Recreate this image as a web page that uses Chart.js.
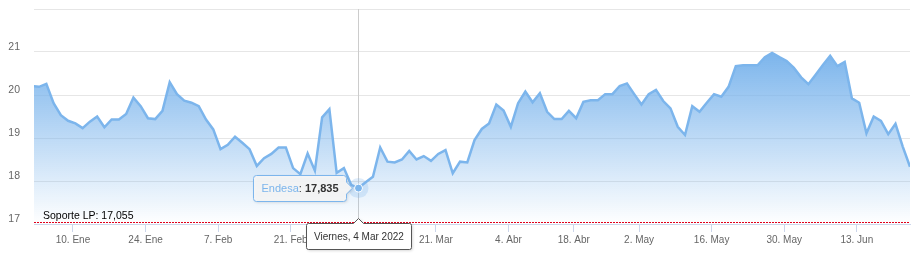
<!DOCTYPE html>
<html><head><meta charset="utf-8">
<script src="https://cdn.jsdelivr.net/npm/chart.js@4.4.0/dist/chart.umd.min.js"></script>
<style>html,body{margin:0;padding:0;background:#fff;}canvas{display:block}</style>
</head><body>
<canvas id="c" width="916" height="261"></canvas>
<script>
const seriesName = 'Endesa';
const year = 2022;
// trading days (first entry is 31 Dec of the previous year)
const dates = ['12-31',
 '01-03','01-04','01-05','01-06','01-07','01-10','01-11','01-12','01-13','01-14','01-17','01-18','01-19','01-20','01-21','01-24','01-25','01-26','01-27','01-28','01-31',
 '02-01','02-02','02-03','02-04','02-07','02-08','02-09','02-10','02-11','02-14','02-15','02-16','02-17','02-18','02-21','02-22','02-23','02-24','02-25','02-28',
 '03-01','03-02','03-03','03-04','03-07','03-08','03-09','03-10','03-11','03-14','03-15','03-16','03-17','03-18','03-21','03-22','03-23','03-24','03-25','03-28','03-29','03-30','03-31',
 '04-01','04-04','04-05','04-06','04-07','04-08','04-11','04-12','04-13','04-14','04-19','04-20','04-21','04-22','04-25','04-26','04-27','04-28','04-29',
 '05-02','05-03','05-04','05-05','05-06','05-09','05-10','05-11','05-12','05-13','05-16','05-17','05-18','05-19','05-20','05-23','05-24','05-25','05-26','05-27','05-30','05-31',
 '06-01','06-02','06-03','06-06','06-07','06-08','06-09','06-10','06-13','06-14','06-15','06-16','06-17','06-20','06-21','06-22'];
const prices = [20.21,
 20.19,20.26,19.81,19.53,19.40,19.34,19.23,19.38,19.50,19.25,19.43,19.43,19.56,19.94,19.74,19.46,19.44,19.63,20.30,20.02,19.87,
 19.82,19.74,19.43,19.20,18.74,18.84,19.03,18.89,18.74,18.35,18.53,18.63,18.78,18.78,18.30,18.16,18.64,18.24,19.48,19.67,
 18.19,18.30,17.91,17.835,17.97,18.10,18.78,18.45,18.43,18.50,18.70,18.50,18.58,18.47,18.63,18.72,18.18,18.45,18.43,18.95,19.21,19.34,19.78,
 19.64,19.26,19.81,20.08,19.83,20.04,19.61,19.44,19.44,19.63,19.46,19.84,19.88,19.88,20.02,20.02,20.21,20.27,20.02,
 19.78,20.02,20.12,19.86,19.69,19.26,19.07,19.74,19.61,19.82,20.02,19.96,20.19,20.67,20.69,20.69,20.69,20.88,20.98,20.88,20.79,20.63,
 20.41,20.25,20.47,20.70,20.91,20.67,20.77,19.92,19.82,19.11,19.50,19.40,19.09,19.33,18.80,18.33];
const tickDates = ['01-10','01-24','02-07','02-21','03-07','03-21','04-04','04-18','05-02','05-16','05-30','06-13'];
const tickLabels = ['10. Ene','24. Ene','7. Feb','21. Feb','7. Mar','21. Mar','4. Abr','18. Abr','2. May','16. May','30. May','13. Jun'];
const yMin = 17, yMax = 22, yStep = 1;
const supportLevel = 17.055;
const supportName = 'Soporte LP';
const hoverDate = '03-04';
const dayNames = ['Domingo','Lunes','Martes','Miércoles','Jueves','Viernes','Sábado'];
const monthNames = ['Ene','Feb','Mar','Abr','May','Jun','Jul','Ago','Sep','Oct','Nov','Dic'];

const BLUE = '#7cb5ec';
const FONT = '"Liberation Sans", Arial, Helvetica, sans-serif';
const fmt = (v) => v.toFixed(3).replace('.', ',');

// tick position: just before the first trading day on/after the tick date (index 0 is previous year)
const tickPos = tickDates.map(d => dates.findIndex((x, i) => i > 0 && x >= d) - 0.33);
const tickMap = new Map(tickPos.map((p, k) => [p, tickLabels[k]]));

const points = prices.map((v, i) => ({x: i, y: v}));

const overlay = {
  id: 'overlay',
  beforeDatasetsDraw(chart) {
    const {ctx, chartArea: a, scales: {x}} = chart;
    const hi = dates.indexOf(hoverDate);
    const px = Math.round(x.getPixelForValue(hi)) + 0.5;
    ctx.save();
    ctx.strokeStyle = '#cccccc'; ctx.lineWidth = 1;
    ctx.beginPath(); ctx.moveTo(px, a.top); ctx.lineTo(px, a.bottom); ctx.stroke();
    ctx.restore();
  },
  afterDatasetsDraw(chart) {
    const {ctx, chartArea: a, scales: {x, y}} = chart;
    // support line
    const sy = Math.round(y.getPixelForValue(supportLevel)) + 0.5;
    ctx.save();
    ctx.strokeStyle = '#e0001b'; ctx.lineWidth = 1; ctx.setLineDash([2, 1]);
    ctx.beginPath(); ctx.moveTo(a.left, sy); ctx.lineTo(a.right, sy); ctx.stroke();
    ctx.setLineDash([]);
    ctx.fillStyle = '#000'; ctx.font = '10.5px ' + FONT; ctx.textBaseline = 'alphabetic';
    ctx.fillText(supportName + ': ' + fmt(supportLevel), a.left + 9, sy - 3.5);
    ctx.restore();

    // hover point
    const hi = dates.indexOf(hoverDate);
    const val = prices[hi];
    const px = Math.round(x.getPixelForValue(hi)) + 0.5;
    const py = y.getPixelForValue(val);
    ctx.save();
    ctx.fillStyle = 'rgba(124,181,236,0.25)';
    ctx.beginPath(); ctx.arc(px, py, 10, 0, Math.PI * 2); ctx.fill();
    ctx.fillStyle = BLUE; ctx.strokeStyle = '#ffffff'; ctx.lineWidth = 1;
    ctx.beginPath(); ctx.arc(px, py, 4, 0, Math.PI * 2); ctx.fill(); ctx.stroke();
    ctx.restore();

    // tooltip
    ctx.save();
    const t1 = seriesName, t2 = ': ', t3 = fmt(val);
    ctx.font = 'bold 11px ' + FONT;
    const w3 = ctx.measureText(t3).width;
    ctx.font = '11px ' + FONT;
    const w1 = ctx.measureText(t1).width, w2 = ctx.measureText(t2).width;
    const bw = Math.round(w1 + w2 + w3 + 16), bh = 26;
    const right = Math.round(px - 13) + 0.5;
    const left = right - bw;
    const top = Math.round(py - bh / 2) + 0.5;
    ctx.beginPath();
    const r = 3;
    ctx.moveTo(left + r, top);
    ctx.lineTo(right - r, top); ctx.arcTo(right, top, right, top + r, r);
    ctx.lineTo(right, py - 6); ctx.lineTo(right + 6, py); ctx.lineTo(right, py + 6);
    ctx.lineTo(right, top + bh - r); ctx.arcTo(right, top + bh, right - r, top + bh, r);
    ctx.lineTo(left + r, top + bh); ctx.arcTo(left, top + bh, left, top + bh - r, r);
    ctx.lineTo(left, top + r); ctx.arcTo(left, top, left + r, top, r);
    ctx.closePath();
    ctx.shadowColor = 'rgba(0,0,0,0.15)'; ctx.shadowBlur = 3; ctx.shadowOffsetX = 1; ctx.shadowOffsetY = 1;
    ctx.fillStyle = 'rgba(247,247,247,0.9)'; ctx.fill();
    ctx.shadowColor = 'transparent';
    ctx.strokeStyle = BLUE; ctx.lineWidth = 1; ctx.stroke();
    ctx.textBaseline = 'middle';
    const ty = py + 1;
    let tx = left + 8;
    ctx.fillStyle = BLUE; ctx.fillText(t1, tx, ty); tx += w1;
    ctx.fillStyle = '#333333'; ctx.fillText(t2, tx, ty); tx += w2;
    ctx.font = 'bold 11px ' + FONT; ctx.fillText(t3, tx, ty);
    ctx.restore();

    // crosshair x label
    const d = new Date(year + '-' + hoverDate + 'T12:00:00');
    const label = dayNames[d.getDay()] + ', ' + d.getDate() + ' ' + monthNames[d.getMonth()] + ' ' + year;
    ctx.save();
    ctx.font = '10px ' + FONT;
    const lw = Math.round(ctx.measureText(label).width + 15);
    const lh = 26;
    const lx = Math.round(px - lw / 2) + 0.5;
    const ly = Math.round(a.bottom) - 0.5;
    ctx.beginPath();
    const rr = 2;
    ctx.moveTo(lx + rr, ly);
    ctx.lineTo(px - 5, ly); ctx.lineTo(px, ly - 5); ctx.lineTo(px + 5, ly);
    ctx.lineTo(lx + lw - rr, ly); ctx.arcTo(lx + lw, ly, lx + lw, ly + rr, rr);
    ctx.lineTo(lx + lw, ly + lh - rr); ctx.arcTo(lx + lw, ly + lh, lx + lw - rr, ly + lh, rr);
    ctx.lineTo(lx + rr, ly + lh); ctx.arcTo(lx, ly + lh, lx, ly + lh - rr, rr);
    ctx.lineTo(lx, ly + rr); ctx.arcTo(lx, ly, lx + rr, ly, rr);
    ctx.closePath();
    ctx.shadowColor = 'rgba(0,0,0,0.2)'; ctx.shadowBlur = 3; ctx.shadowOffsetX = 1; ctx.shadowOffsetY = 1;
    ctx.fillStyle = '#ffffff'; ctx.fill();
    ctx.shadowColor = 'transparent';
    ctx.strokeStyle = '#555555'; ctx.lineWidth = 1; ctx.stroke();
    ctx.fillStyle = '#333333'; ctx.textBaseline = 'middle';
    ctx.fillText(label, lx + 7.5, ly + lh / 2 + 1);
    ctx.restore();
  }
};

Chart.defaults.font.family = FONT;

new Chart(document.getElementById('c'), {
  type: 'line',
  data: {
    datasets: [{
      label: seriesName,
      data: points,
      borderColor: BLUE,
      borderWidth: 2.5,
      pointRadius: 0,
      pointHoverRadius: 0,
      tension: 0,
      fill: 'start',
      backgroundColor: (c) => {
        const chart = c.chart; const a = chart.chartArea;
        if (!a) return 'rgba(124,181,236,0.5)';
        const top = chart.scales.y.getPixelForValue(Math.max(...prices));
        const g = chart.ctx.createLinearGradient(0, top, 0, a.bottom);
        g.addColorStop(0, 'rgba(124,181,236,1)');
        g.addColorStop(1, 'rgba(124,181,236,0)');
        return g;
      }
    }]
  },
  options: {
    responsive: false,
    animation: false,
    events: [],
    layout: {padding: {top: 9, right: 6, left: 0, bottom: 0}},
    plugins: {legend: {display: false}, tooltip: {enabled: false}},
    scales: {
      x: {
        type: 'linear',
        min: 0.30,
        max: 121,
        afterBuildTicks: (s) => { s.ticks = tickPos.map(v => ({value: v})); },
        afterFit: (s) => { s.height = 37; s.paddingLeft = 0; s.paddingRight = 0; },
        grid: {display: true, drawOnChartArea: false, drawTicks: true, tickLength: 8, color: '#ccd6eb'},
        border: {display: true, color: '#ccd6eb'},
        ticks: {
          autoSkip: false, maxRotation: 0, padding: 2,
          color: '#666666', font: {size: 10},
          callback: (v) => tickMap.get(v) || ''
        }
      },
      y: {
        min: yMin, max: yMax,
        afterFit: (s) => { s.width = 34; s.paddingTop = 0; s.paddingBottom = 0; },
        grid: {color: '#e6e6e6', drawTicks: false},
        border: {display: false},
        ticks: {
          stepSize: yStep, padding: 14, labelOffset: -4.5,
          color: '#666666', font: {size: 10.5},
          callback: (v) => v === yMax ? '' : String(v)
        }
      }
    }
  },
  plugins: [overlay]
});
</script>
</body></html>
